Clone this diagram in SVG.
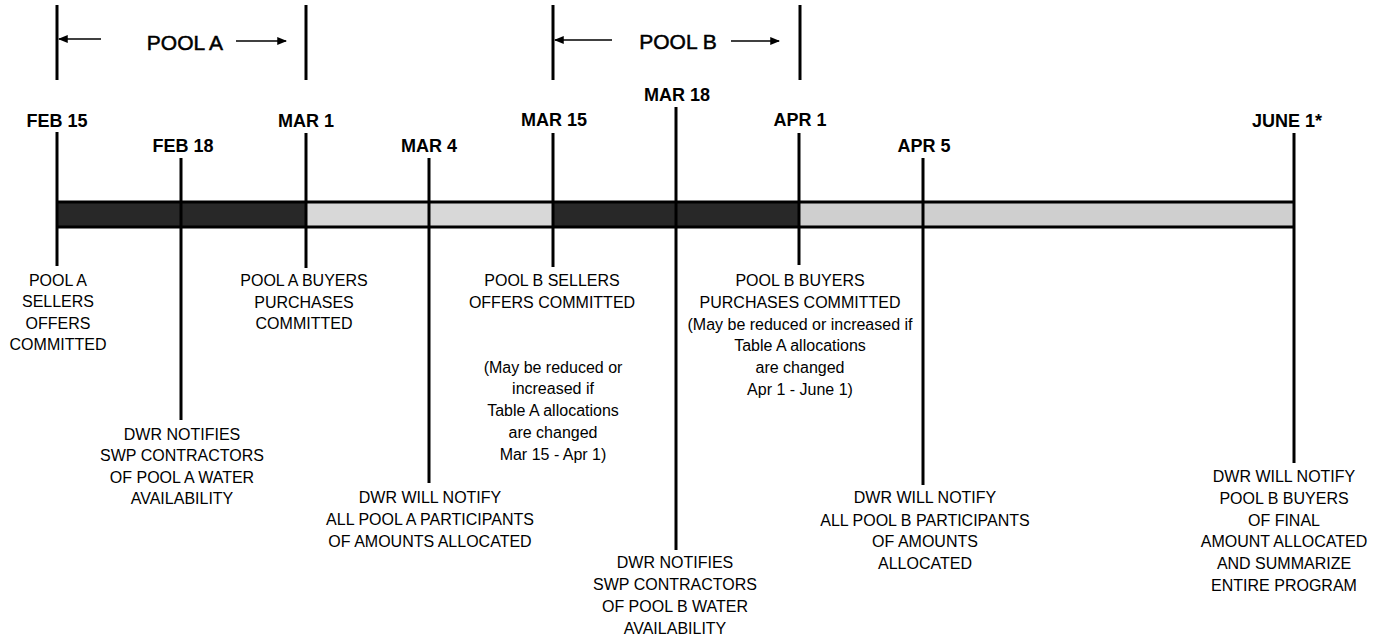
<svg xmlns="http://www.w3.org/2000/svg" width="1375" height="640" viewBox="0 0 1375 640">
<style>
.date{font-family:"Liberation Sans",Arial,sans-serif;font-size:18px;font-weight:bold;fill:#000;text-anchor:middle}
.lbl{font-family:"Liberation Sans",Arial,sans-serif;font-size:16px;fill:#000;text-anchor:middle}
.pool{font-family:"Liberation Sans",Arial,sans-serif;font-size:21px;fill:#000;stroke:#000;stroke-width:0.5;text-anchor:middle}
.tick{stroke:#000;stroke-width:3;fill:none}
.arr{stroke:#000;stroke-width:1.5;fill:none;marker-end:url(#ah)}
.dark{fill:#282828}
.light{fill:#d8d8d8}
</style>
<defs>
<marker id="ah" viewBox="0 0 10 10" refX="9" refY="5" markerWidth="6.5" markerHeight="6.5" markerUnits="strokeWidth" orient="auto">
<path d="M0,1 L10,5 L0,9 z" fill="#000"/>
</marker>
</defs>
<rect width="1375" height="640" fill="#fff"/>

<g id="bar">
<rect class="dark" x="57" y="202" width="249" height="25"/>
<rect class="light" x="306" y="202" width="247" height="25"/>
<rect class="dark" x="553" y="202" width="246" height="25"/>
<rect x="799" y="202" width="495" height="25" fill="#cfcfcf"/>
<line class="tick" x1="57" y1="202" x2="1294" y2="202"/>
<line class="tick" x1="57" y1="227" x2="1294" y2="227"/>
</g>

<g id="poolA">
<line class="tick" x1="57" y1="5" x2="57" y2="80"/>
<line class="tick" x1="306" y1="5" x2="306" y2="80"/>
<text class="pool" x="185" y="50">POOL A</text>
</g>
<g id="poolB">
<line class="tick" x1="553" y1="5" x2="553" y2="80"/>
<line class="tick" x1="800" y1="5" x2="800" y2="80"/>
<text class="pool" x="678" y="49">POOL B</text>
</g>

<g id="connectors">
<line class="arr" x1="101" y1="39" x2="59" y2="39"/>
<line class="arr" x1="236" y1="41" x2="286" y2="41"/>
<line class="arr" x1="612" y1="40" x2="555" y2="40"/>
<line class="arr" x1="731" y1="41" x2="779" y2="41"/>
</g>

<g id="feb15">
<line class="tick" x1="57" y1="132" x2="57" y2="266"/>
<text class="date" x="57" y="127">FEB 15</text>
<text class="lbl"><tspan x="58" y="286">POOL A</tspan><tspan x="58" y="307">SELLERS</tspan><tspan x="58" y="329">OFFERS</tspan><tspan x="58" y="350">COMMITTED</tspan></text>
</g>

<g id="feb18">
<line class="tick" x1="181" y1="158" x2="181" y2="420"/>
<text class="date" x="183" y="152">FEB 18</text>
<text class="lbl"><tspan x="182" y="440">DWR NOTIFIES</tspan><tspan x="182" y="461">SWP CONTRACTORS</tspan><tspan x="182" y="483">OF POOL A WATER</tspan><tspan x="182" y="504">AVAILABILITY</tspan></text>
</g>

<g id="mar1">
<line class="tick" x1="306" y1="133" x2="306" y2="268"/>
<text class="date" x="306" y="127">MAR 1</text>
<text class="lbl"><tspan x="304" y="286">POOL A BUYERS</tspan><tspan x="304" y="308">PURCHASES</tspan><tspan x="304" y="329">COMMITTED</tspan></text>
</g>

<g id="mar4">
<line class="tick" x1="429" y1="158" x2="429" y2="483"/>
<text class="date" x="429" y="152">MAR 4</text>
<text class="lbl"><tspan x="430" y="503">DWR WILL NOTIFY</tspan><tspan x="430" y="525">ALL POOL A PARTICIPANTS</tspan><tspan x="430" y="547">OF AMOUNTS ALLOCATED</tspan></text>
</g>

<g id="mar15">
<line class="tick" x1="553" y1="133" x2="553" y2="267"/>
<text class="date" x="554" y="126">MAR 15</text>
<text class="lbl"><tspan x="552" y="286">POOL B SELLERS</tspan><tspan x="552" y="308">OFFERS COMMITTED</tspan></text>
<text class="lbl"><tspan x="553" y="373">(May be reduced or</tspan><tspan x="553" y="394">increased if</tspan><tspan x="553" y="416">Table A allocations</tspan><tspan x="553" y="438">are changed</tspan><tspan x="553" y="460">Mar 15 - Apr 1)</tspan></text>
</g>

<g id="mar18">
<line class="tick" x1="676" y1="107" x2="676" y2="550"/>
<text class="date" x="677" y="101">MAR 18</text>
<text class="lbl"><tspan x="675" y="568">DWR NOTIFIES</tspan><tspan x="675" y="590">SWP CONTRACTORS</tspan><tspan x="675" y="612">OF POOL B WATER</tspan><tspan x="675" y="634">AVAILABILITY</tspan></text>
</g>

<g id="apr1">
<line class="tick" x1="799" y1="133" x2="799" y2="265"/>
<text class="date" x="800" y="126">APR 1</text>
<text class="lbl"><tspan x="800" y="286">POOL B BUYERS</tspan><tspan x="800" y="308">PURCHASES COMMITTED</tspan><tspan x="800" y="330">(May be reduced or increased if</tspan><tspan x="800" y="351">Table A allocations</tspan><tspan x="800" y="373">are changed</tspan><tspan x="800" y="395">Apr 1 - June 1)</tspan></text>
</g>

<g id="apr5">
<line class="tick" x1="923" y1="158" x2="923" y2="485"/>
<text class="date" x="924" y="152">APR 5</text>
<text class="lbl"><tspan x="925" y="503">DWR WILL NOTIFY</tspan><tspan x="925" y="526">ALL POOL B PARTICIPANTS</tspan><tspan x="925" y="547">OF AMOUNTS</tspan><tspan x="925" y="569">ALLOCATED</tspan></text>
</g>

<g id="june1">
<line class="tick" x1="1294" y1="133" x2="1294" y2="463"/>
<text class="date" x="1287" y="127">JUNE 1*</text>
<text class="lbl"><tspan x="1284" y="482">DWR WILL NOTIFY</tspan><tspan x="1284" y="504">POOL B BUYERS</tspan><tspan x="1284" y="526">OF FINAL</tspan><tspan x="1284" y="547">AMOUNT ALLOCATED</tspan><tspan x="1284" y="569">AND SUMMARIZE</tspan><tspan x="1284" y="591">ENTIRE PROGRAM</tspan></text>
</g>
</svg>
